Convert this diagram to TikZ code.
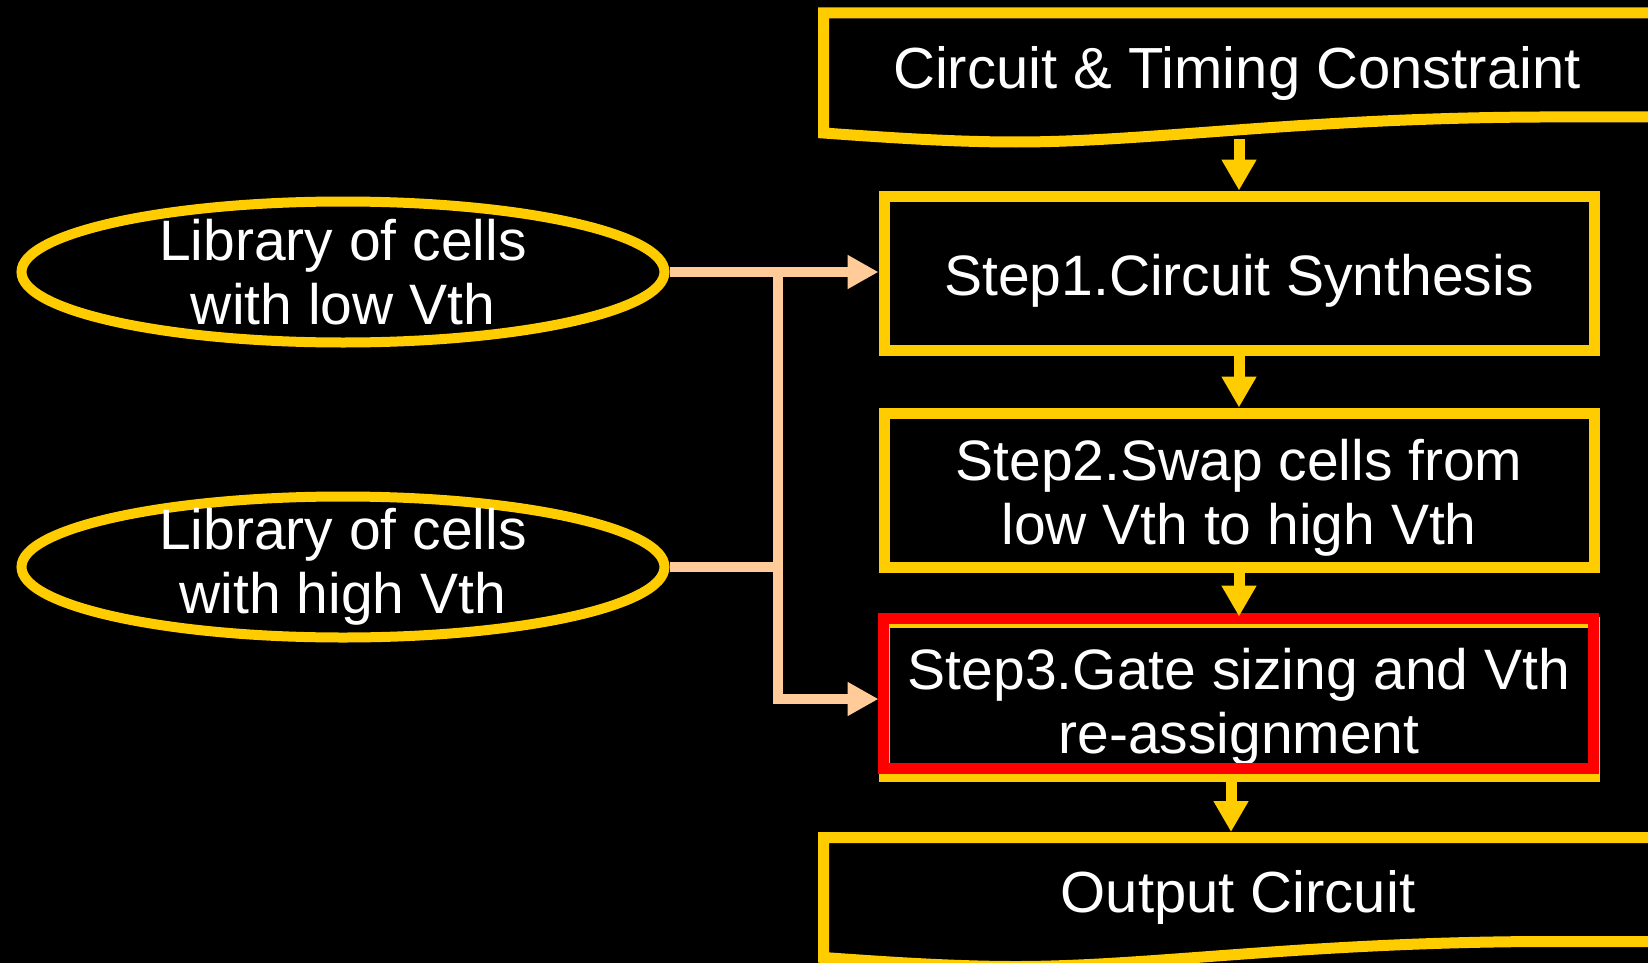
\documentclass[tikz,border=0pt]{standalone}
\usepackage{fontspec}
\setmainfont{Liberation Sans}
\usepackage{tikz}
\usetikzlibrary{positioning,arrows.meta,shapes.geometric}
\definecolor{flowyellow}{HTML}{FFCC00}
\definecolor{libpeach}{HTML}{FFCC99}
\definecolor{hlred}{HTML}{FF0000}
\newcommand{\flowfont}{\fontsize{28.5}{32}\selectfont}
\newcommand{\topstrut}{\rule{0pt}{28pt}}
\tikzset{
  stepbox/.style={draw=flowyellow,line width=5.5pt,minimum width=355pt,
    minimum height=77pt,inner sep=0pt,align=center,text=white,font=\flowfont},
  hlbox/.style={draw=hlred,line width=5.5pt,minimum width=355pt,
    minimum height=75pt,inner sep=0pt},
  libell/.style={ellipse,draw=flowyellow,line width=5pt,minimum width=321.5pt,
    minimum height=70.5pt,inner sep=0pt},
  libtxt/.style={align=center,text=white,font=\flowfont,inner sep=0pt},
  docline/.style={draw=flowyellow,line width=5.5pt},
  doctxt/.style={text=white,font=\fontsize{29}{32}\selectfont,anchor=base,inner sep=0pt},
  flow/.style={-{Triangle[length=15.5pt,width=16.5pt]},draw=flowyellow,line width=5.5pt},
  libline/.style={draw=libpeach,line width=5.25pt},
  libflow/.style={libline,-{Triangle[length=15.5pt,width=16pt]}},
}
\begin{document}
\begin{tikzpicture}[x=0.5pt,y=-0.5pt]
  \useasboundingbox (0,0) rectangle (1648,963);
  \fill[black] (0,0) rectangle (1648,963);
  % input and output documents
  \foreach \dy in {0,824.5} {
    \draw[docline,shift={(0,\dy)}] (1665,13) -- (823.5,13) -- (823.5,133)
      .. controls (880,137) and (950,142) .. (1016,142)
      .. controls (1150,142) and (1300,118) .. (1540,117) -- (1665,117);
  }
  \node[doctxt] (cons) at (1237,89) {Circuit \& Timing Constraint};
  \node[doctxt] (outc) at (1238,912) {Output Circuit};
  \coordinate (indoc) at (1239,139);
  \coordinate (outdoc) at (1231,832);
  % flow steps
  \node[stepbox] (step1) at (1239,273) {\topstrut Step1.Circuit Synthesis};
  \node[stepbox] (step2) at (1239,490) {\topstrut Step2.Swap cells from\\low Vth to high Vth};
  \node[stepbox] (step3) at (1239,699) {\topstrut Step3.Gate sizing and Vth\\re-assignment};
  \node[hlbox] (step3hl) at (1238.5,693.5) {};
  % cell libraries
  \node[libell] (lowlib) at (343,272) {};
  \node[libtxt] (lowlibtxt) at (lowlib) {Library of cells\\with low Vth};
  \node[libell] (highlib) at (343,567) {};
  \node[libtxt] (highlibtxt) at (highlib) {Library of cells\\with high Vth};
  \coordinate (junc) at (778,0);
  % connectors
  \draw[flow] (indoc) -- (step1.north -| indoc);
  \draw[flow] (step1) -- (step2);
  \draw[flow] (step2) -- (step3);
  \draw[flow] (step3.south -| outdoc) -- (outdoc);
  \draw[libflow] (lowlib.east) -- (lowlib.east -| step1.west);
  \draw[libflow] (junc |- lowlib.east) |- (step3.west);
  \draw[libline] (highlib.east) -- (junc |- highlib.east);
\end{tikzpicture}
\end{document}
